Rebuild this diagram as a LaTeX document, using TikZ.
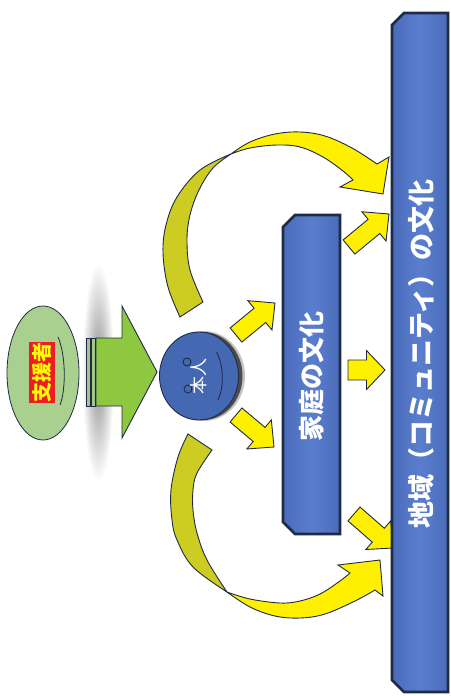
\documentclass[tikz,border=0pt]{standalone}
\usepackage{fontspec}
\newfontfamily\jp{Noto Sans CJK JP}
\usetikzlibrary{calc,shapes.geometric}
\definecolor{navy}{HTML}{1F2B45}
\definecolor{rectblue}{HTML}{4A6BBA}
\definecolor{rectblueL}{HTML}{5A7ECE}
\definecolor{circblue}{HTML}{4568B3}
\definecolor{ygold}{HTML}{FFF000}
\definecolor{olivey}{HTML}{CCCC22}
\definecolor{lgreen}{HTML}{A9D08E}
\definecolor{agreen}{HTML}{8DC840}
\definecolor{stripeg}{HTML}{A3C48A}
\definecolor{sred}{HTML}{EE1C25}
\definecolor{syellow}{HTML}{FFFF00}
\tikzset{
  outline/.style={draw=navy, line width=0.9bp},
  yarrow/.style={fill=ygold, outline, line join=miter},
  backband/.style={fill=olivey, outline},
  frontband/.style={fill=ygold, outline, line join=miter},
  culture/.style={draw=navy, line width=2.6bp, left color=rectblue, right color=rectblue, middle color=rectblueL},
  vtext/.style={rotate=90, text=white, inner sep=0pt, font=\jp\bfseries\fontsize{26bp}{26bp}\selectfont},
  smooth path/.style={smooth, tension=0.6},
}
% block arrow: #1 start, #2 tip, #3 half shaft, #4 half head, #5 head length
\newcommand\blockarr[5]{%
  \coordinate (ba-h) at ($(#2)!#5!(#1)$);
  \path[yarrow] ($(#1)!#3!90:(#2)$) -- ($(ba-h)!#3!90:(#2)$) -- ($(ba-h)!#4!90:(#2)$)
    -- (#2) -- ($(ba-h)!#4!-90:(#2)$) -- ($(ba-h)!#3!-90:(#2)$) -- ($(#1)!#3!-90:(#2)$) -- cycle;
}
\begin{document}
\begin{tikzpicture}[x=1bp, y=-1bp]
\useasboundingbox (0,0) rectangle (451,696);
\fill[white] (0,0) rectangle (451,696);

% blurred shadow behind the green arrow's stripes
\shade[inner color=gray!90, outer color=white] (82,262) rectangle (114,482);

% upper curved arrow
\path[backband] plot[smooth path] coordinates {(180,317) (168,287) (163,253) (166,225) (177,197) (200,170) (231,154)}
  -- plot[smooth path] coordinates {(231,154) (213,168) (199,190) (190,215) (187,240) (190,270) (203,302)} -- cycle;
\path[frontband] plot[smooth path] coordinates {(231,154) (250,142) (275,134) (300,132) (325,136) (352,148) (377,164)}
  -- (389,157) -- (383,194) -- (340,187) -- (353,180)
  -- plot[smooth path] coordinates {(353,180) (343,171) (323,157) (300,147) (277,145) (250,148) (231,154)} -- cycle;

% lower curved arrow
\path[backband] plot[smooth path] coordinates {(188,434) (178,457) (171,490) (172,520) (177,540) (193,567) (227,592)}
  -- plot[smooth path] coordinates {(227,592) (207,560) (197,533) (193,510) (193,490) (197,473) (212,450)} -- cycle;
\path[frontband] plot[smooth path] coordinates {(227,592) (250,607) (275,616) (300,618) (325,614) (355,601) (375,590)}
  -- (383,596) -- (380,560) -- (338,565) -- (350,573)
  -- plot[smooth path] coordinates {(350,573) (340,581) (320,594) (300,601) (280,603) (250,599) (227,592)} -- cycle;

% straight arrows
\coordinate (a1s) at (236,335); \coordinate (a1t) at (275,303);
\coordinate (a2s) at (236,415); \coordinate (a2t) at (274,447);
\coordinate (a3s) at (348,370); \coordinate (a3t) at (385,370);
\coordinate (a4s) at (349,247); \coordinate (a4t) at (389,214);
\coordinate (a5s) at (354,514); \coordinate (a5t) at (393,548);
\blockarr{a1s}{a1t}{9.2bp}{19bp}{19.5bp}
\blockarr{a2s}{a2t}{9.2bp}{19bp}{19.5bp}
\blockarr{a3s}{a3t}{10bp}{19.5bp}{18.5bp}
\blockarr{a4s}{a4t}{9.2bp}{19bp}{19.5bp}
\blockarr{a5s}{a5t}{9.2bp}{19bp}{19.5bp}

% community culture
\path[culture] (392,25) -- (404,13) -- (448,13) -- (448,692) -- (404,692) -- (392,680) -- cycle;
\node[vtext, font=\jp\bfseries\fontsize{27bp}{27bp}\selectfont] (community) at (421,354) {地域（コミュニティ）の文化};

% family culture
\path[culture] (283,227) -- (295,215) -- (340,215) -- (340,534) -- (295,534) -- (283,522) -- cycle;
\node[vtext] (family) at (312,376) {家庭の文化};

% person
\fill[black!80, opacity=0.3] (204,376) ellipse [x radius=41, y radius=45];
\fill[black!85, opacity=0.75] (203,376) ellipse [x radius=39.5, y radius=44];
\node[ellipse, draw=navy, line width=0.9bp, fill=circblue, minimum width=79bp, minimum height=88bp, inner sep=0pt] (person) at (199,376) {};
\path[fill=circblue, outline] (187,362) circle [radius=4];
\path[fill=circblue, outline] (188,389) circle [radius=4];
\draw[navy, line width=0.8bp] (216.5,352) .. controls (224,366) and (224,388) .. (218,400);
\node[rotate=90, text=white, inner sep=0pt, font=\jp\fontsize{18bp}{18bp}\selectfont] (personlabel) at (199,376) {本人};

% green arrow
\path[fill=agreen, outline] (96,338) -- (122,338) -- (122,306) -- (157,372) -- (122,438) -- (122,406) -- (96,406) -- cycle;
\path[fill=stripeg, outline] (86,338) rectangle (90,406);
\path[fill=stripeg, outline] (91,338) rectangle (95,406);

% supporter
\node[ellipse, draw=navy, line width=0.8bp, fill=lgreen, minimum width=72bp, minimum height=134bp, inner sep=0pt] (supporter) at (43,373) {};
\draw[navy, line width=0.8bp] (58,337) .. controls (66,355) and (66,390) .. (60,405);
\node[rotate=90, fill=sred, text=syellow, inner sep=0pt, minimum width=61bp, minimum height=26bp,
      font=\jp\bfseries\fontsize{20bp}{20bp}\selectfont] (supporterlabel) at (42,372) {支援者};
\end{tikzpicture}
\end{document}
